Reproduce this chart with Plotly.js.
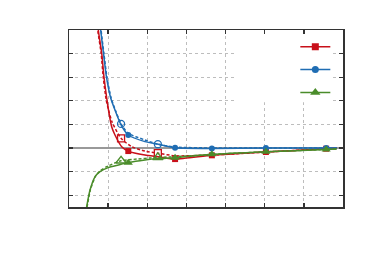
<!DOCTYPE html>
<html>
<head>
<meta charset="utf-8">
<script src="https://cdn.plot.ly/plotly-3.0.1.min.js"></script>
<style>html,body{margin:0;padding:0;background:#fff;}#chart{width:370px;height:256px;}</style>
</head>
<body>
<div id="chart"></div>
<script>
// Red series (solid = filled squares, dashed = open squares)
const redSolidX = [0.72, 0.749, 0.835, 0.894, 0.963, 1.03, 1.09, 1.175, 1.346, 1.515, 1.94, 2.28, 2.71, 3.65, 5.03, 6.57, 6.84];
const redSolidY = [6.0, 5.0, 4.03, 3.01, 2.12, 1.40, 0.90, 0.55, 0.055, -0.13, -0.30, -0.37, -0.47, -0.31, -0.17, -0.03, 0.0];
const redDashX = [0.71, 0.735, 0.82, 0.875, 0.955, 1.10, 1.33, 1.60, 1.94, 2.27, 2.71, 3.65, 5.03, 6.57, 6.84];
const redDashY = [6.0, 5.0, 4.03, 3.0, 2.0, 1.10, 0.41, 0.055, -0.13, -0.22, -0.33, -0.30, -0.17, -0.03, 0.0];
// Blue series
const blueSolidX = [0.78, 0.81, 0.88, 0.958, 1.065, 1.175, 1.33, 1.515, 1.94, 2.28, 2.71, 3.65, 5.03, 6.57, 6.84];
const blueSolidY = [6.0, 5.0, 4.03, 3.0, 2.12, 1.61, 0.98, 0.55, 0.27, 0.16, 0.01, -0.02, 0.0, 0.0, 0.0];
const blueDashX = [0.79, 0.82, 0.89, 0.968, 1.075, 1.185, 1.33, 1.515, 1.94, 2.27, 2.71, 3.65, 5.03, 6.57, 6.84];
const blueDashY = [6.0, 5.0, 4.03, 3.0, 2.12, 1.6, 1.02, 0.62, 0.34, 0.16, 0.04, 0.0, 0.0, 0.0, 0.0];
// Green series
const greenSolidX = [0.43, 0.45, 0.537, 0.664, 0.792, 1.0, 1.26, 1.515, 1.94, 2.28, 2.71, 3.65, 5.03, 6.57, 6.84];
const greenSolidY = [-2.7, -2.5, -1.78, -1.22, -1.0, -0.83, -0.72, -0.62, -0.51, -0.45, -0.41, -0.27, -0.16, -0.06, -0.04];
const greenDashX = [0.44, 0.46, 0.55, 0.68, 0.80, 1.0, 1.33, 1.6, 2.27, 2.71, 3.65, 5.03, 6.57, 6.84];
const greenDashY = [-2.7, -2.5, -1.75, -1.18, -0.96, -0.76, -0.54, -0.49, -0.40, -0.37, -0.27, -0.16, -0.06, -0.04];
// Marker points
const solidMarkX = [1.515, 2.71, 3.65, 5.03, 6.57];
const redSolidMarkY = [-0.13, -0.47, -0.31, -0.17, -0.03];
const blueSolidMarkY = [0.55, 0.01, -0.02, 0.0, 0.0];
const greenSolidMarkY = [-0.62, -0.41, -0.27, -0.16, -0.06];
const dashMarkX = [1.33, 2.27];
const redDashMarkY = [0.41, -0.22];
const blueDashMarkY = [1.02, 0.16];
const greenDashMarkY = [-0.54, -0.40];
const seriesNames = ["", "", ""];

const RED = "#c8101a", BLUE = "#1f6db3", GREEN = "#4a8c2a";
const LW = 1.5;

function curve(x, y, color, dash) {
  return {x: x, y: y, mode: "lines", type: "scatter", showlegend: false, hoverinfo: "skip",
    line: {color: color, width: LW, dash: dash, shape: "spline", smoothing: 0.6}};
}
function marks(x, y, color, symbol, open) {
  const tri = symbol.indexOf("triangle") === 0;
  return {x: x, y: y, mode: "markers", type: "scatter", showlegend: false,
    marker: {symbol: open ? symbol + "-open" : symbol, size: (open ? 7 : 6) + (tri ? 2 : 0), color: color,
      line: {color: color, width: open ? 1.3 : 0}}};
}
function legendItem(name, color, symbol, group) {
  const tri = symbol.indexOf("triangle") === 0;
  return {x: [null], y: [null], mode: "lines+markers", type: "scatter", name: name, legendgroup: group,
    line: {color: color, width: LW}, marker: {symbol: symbol, size: tri ? 9 : 7, color: color}};
}

const traces = [
  curve(redDashX, redDashY, RED, "3px,2px"),
  curve(redSolidX, redSolidY, RED, "solid"),
  marks(dashMarkX, redDashMarkY, RED, "square", true),
  marks(solidMarkX, redSolidMarkY, RED, "square", false),
  curve(blueDashX, blueDashY, BLUE, "3px,2px"),
  curve(blueSolidX, blueSolidY, BLUE, "solid"),
  marks(dashMarkX, blueDashMarkY, BLUE, "circle", true),
  marks(solidMarkX, blueSolidMarkY, BLUE, "circle", false),
  curve(greenDashX, greenDashY, GREEN, "3px,2px"),
  curve(greenSolidX, greenSolidY, GREEN, "solid"),
  marks(dashMarkX, greenDashMarkY, GREEN, "triangle-up", true),
  marks(solidMarkX, greenSolidMarkY, GREEN, "triangle-up", false),
  legendItem(seriesNames[0], RED, "square", "a"),
  legendItem(seriesNames[1], BLUE, "circle", "b"),
  legendItem(seriesNames[2], GREEN, "triangle-up", "c")
];

const axisCommon = {
  showline: true, linecolor: "#333", linewidth: 1.5, mirror: "ticks",
  ticks: "inside", ticklen: 4, tickwidth: 1.3, tickcolor: "#333",
  showticklabels: false, showgrid: true, gridcolor: "#bdbdbd", griddash: "dot", gridwidth: 1,
  fixedrange: true
};

const layout = {
  width: 370, height: 256,
  margin: {l: 69, r: 27, t: 30, b: 49},
  paper_bgcolor: "#fff", plot_bgcolor: "#fff",
  showlegend: true,
  xaxis: Object.assign({}, axisCommon, {range: [0, 7], dtick: 1, tick0: 0, zeroline: false}),
  yaxis: Object.assign({}, axisCommon, {range: [-2.5, 5], dtick: 1, tick0: 0,
    zeroline: true, zerolinecolor: "#999", zerolinewidth: 1.5}),
  legend: {x: 0.826, xanchor: "left", y: 0.99, yanchor: "top", bgcolor: "rgba(0,0,0,0)",
    traceorder: "grouped", tracegroupgap: 3, itemwidth: 30,
    font: {family: "DejaVu Sans", size: 13, color: "#000"}},
  shapes: [{type: "rect", xref: "x", yref: "y", x0: 4.29, x1: 6.74, y0: 1.94, y1: 4.97,
    fillcolor: "#fff", line: {width: 0}, layer: "between"}]
};

Plotly.newPlot("chart", traces, layout, {displayModeBar: false, staticPlot: true});
</script>
</body>
</html>
